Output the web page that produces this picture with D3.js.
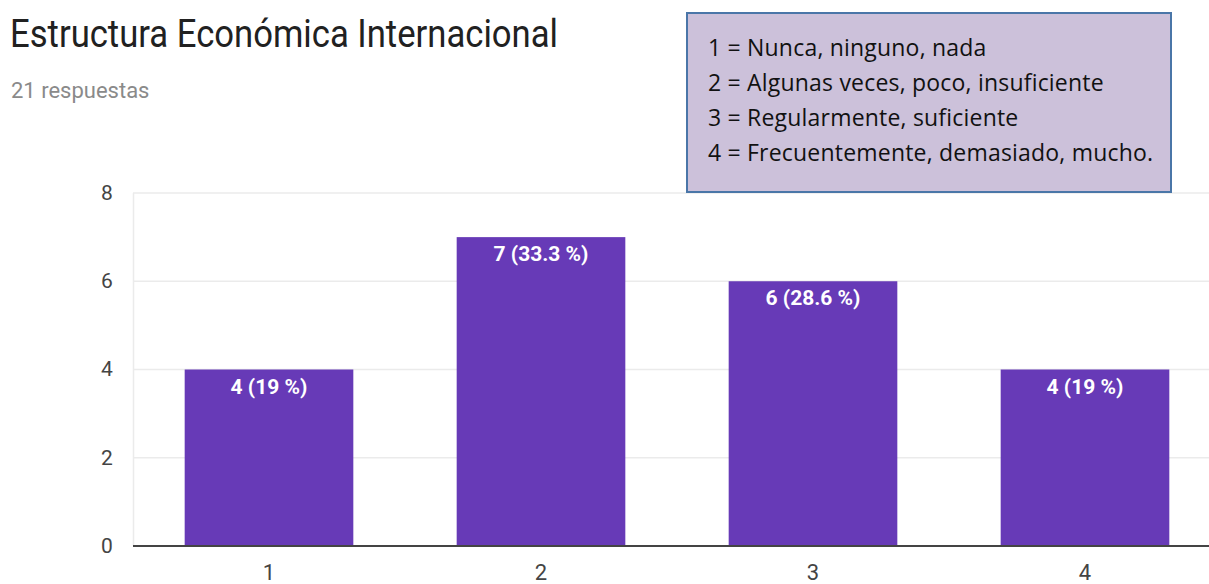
<!DOCTYPE html>
<meta charset="utf-8">
<style>
body { margin: 0; background: #fff; }
svg { display: block; }
.grid line { stroke: #ebebeb; stroke-width: 1.5px; }
.tick text { font-family: Roboto, sans-serif; fill: #444; }
</style>
<svg width="1209" height="584"></svg>
<script src="https://d3js.org/d3.v7.min.js"></script>
<script>

var categories = ["1", "2", "3", "4"];
var counts = [4, 7, 6, 4];
var percents = ["19 %", "33.3 %", "28.6 %", "19 %"];
var yTicks = [0, 2, 4, 6, 8];
var legendLines = [
  "1 = Nunca, ninguno, nada",
  "2 = Algunas veces, poco, insuficiente",
  "3 = Regularmente, suficiente",
  "4 = Frecuentemente, demasiado, mucho."
];

var svg = d3.select("svg");

var x = d3.scaleBand()
    .domain(categories)
    .range([133, 1221])
    .paddingInner(0.38)
    .paddingOuter(0.19);

var y = d3.scaleLinear()
    .domain([0, 8])
    .range([546, 193]);

// title
svg.append("text")
    .attr("x", 10).attr("y", 47)
    .attr("font-family", "Roboto, sans-serif")
    .attr("font-size", 38)
    .attr("fill", "#212121")
    .attr("textLength", 548)
    .attr("lengthAdjust", "spacingAndGlyphs")
    .text("Estructura Económica Internacional");

svg.append("text")
    .attr("x", 11).attr("y", 98)
    .attr("font-family", "Roboto, sans-serif")
    .attr("font-size", 22)
    .attr("fill", "#8a8a8a")
    .text("21 respuestas");

// gridlines
svg.append("g")
    .attr("class", "grid")
  .selectAll("line")
  .data(yTicks.slice(1))
  .enter().append("line")
    .attr("x1", 133).attr("x2", 1209)
    .attr("y1", function(d) { return y(d); })
    .attr("y2", function(d) { return y(d); });

svg.append("line")
    .attr("x1", 133.5).attr("x2", 133.5)
    .attr("y1", y(8)).attr("y2", y(0))
    .attr("stroke", "#ebebeb").attr("stroke-width", 1.5);

// y axis
var yAxis = svg.append("g")
    .attr("transform", "translate(107,0)")
    .call(d3.axisLeft(y).tickValues(yTicks).tickSize(0).tickPadding(0));
yAxis.select(".domain").remove();
yAxis.selectAll("text").attr("font-size", 21).attr("text-anchor", "middle").attr("dy", "0.3em");

// bars
svg.append("g")
  .selectAll("rect")
  .data(counts)
  .enter().append("rect")
    .attr("x", function(d, i) { return x(categories[i]); })
    .attr("y", function(d) { return y(d); })
    .attr("width", x.bandwidth())
    .attr("height", function(d) { return y(0) - y(d); })
    .attr("fill", "#673ab7");

svg.append("g")
  .selectAll("text")
  .data(counts)
  .enter().append("text")
    .attr("x", function(d, i) { return x(categories[i]) + x.bandwidth() / 2; })
    .attr("y", function(d) { return y(d) + 24; })
    .attr("text-anchor", "middle")
    .attr("font-family", "Roboto, sans-serif")
    .attr("font-size", 21)
    .attr("font-weight", "bold")
    .attr("fill", "#fff")
    .text(function(d, i) { return d + " (" + percents[i] + ")"; });

// baseline
svg.append("line")
    .attr("x1", 133).attr("x2", 1209)
    .attr("y1", y(0)).attr("y2", y(0))
    .attr("stroke", "#444").attr("stroke-width", 2);

// x axis
var xAxis = svg.append("g")
    .attr("transform", "translate(0," + (y(0) + 34) + ")")
    .call(d3.axisBottom(x).tickSize(0).tickPadding(0));
xAxis.select(".domain").remove();
xAxis.selectAll("text").attr("font-size", 22).attr("dy", 0);

// legend box
var legend = svg.append("g");
legend.append("rect")
    .attr("x", 687).attr("y", 13)
    .attr("width", 484).attr("height", 179)
    .attr("fill", "#ccc1da")
    .attr("stroke", "#4a76a8")
    .attr("stroke-width", 2);

legend.selectAll("text")
  .data(legendLines)
  .enter().append("text")
    .attr("x", 708)
    .attr("y", function(d, i) { return 56 + i * 35; })
    .attr("font-family", "'Open Sans', sans-serif")
    .attr("font-size", 23)
    .attr("letter-spacing", 0.2)
    .attr("fill", "#111")
    .text(function(d) { return d; });

</script>
